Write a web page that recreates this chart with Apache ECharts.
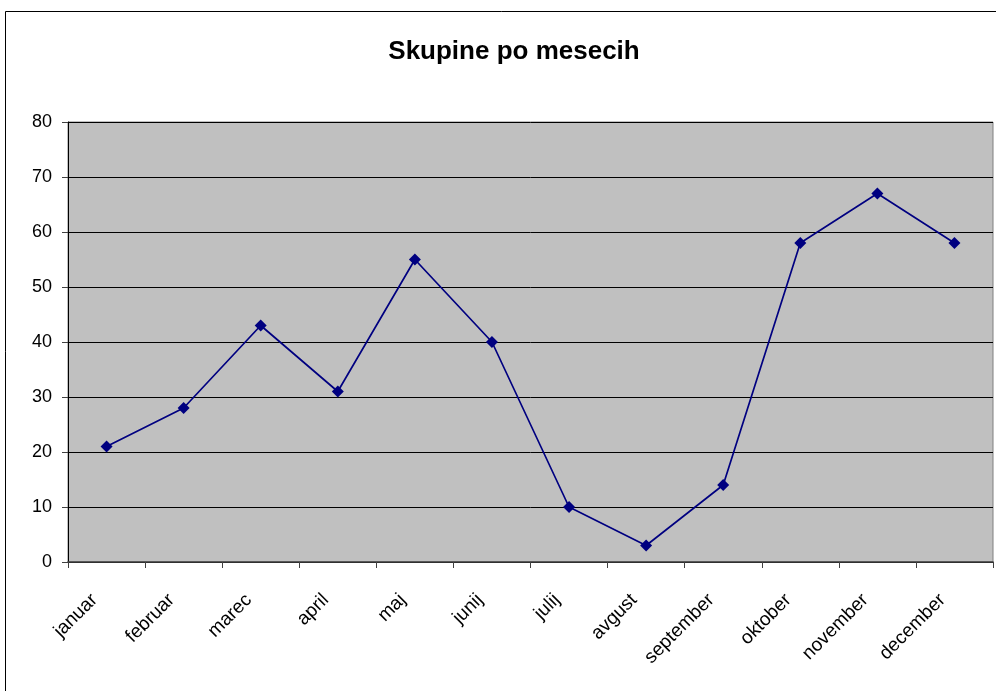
<!DOCTYPE html>
<html>
<head>
<meta charset="utf-8">
<script src="https://cdn.jsdelivr.net/npm/echarts@6/dist/echarts.min.js"></script>
<style>html,body{margin:0;padding:0;background:#fff;}#c{width:996px;height:691px;}</style>
</head>
<body>
<div id="c"></div>
<script>
const categories = ['januar','februar','marec','april','maj','junij','julij','avgust','september','oktober','november','december'];
const values = [21, 28, 43, 31, 55, 40, 10, 3, 14, 58, 67, 58];
const yTicks = [0, 10, 20, 30, 40, 50, 60, 70, 80];
const titleText = 'Skupine po mesecih';

const chart = echarts.init(document.getElementById('c'), null, {renderer: 'canvas'});
chart.setOption({
  animation: false,
  backgroundColor: '#fff',
  title: {
    text: titleText,
    left: 509, top: 34, textAlign: 'center',
    textStyle: {fontFamily: 'Liberation Sans', fontSize: 26, fontWeight: 'bold', color: '#000'}
  },
  graphic: [{
    type: 'rect', silent: true, z: -10,
    shape: {x: 5.5, y: 11.5, width: 1200, height: 900},
    style: {fill: 'none', stroke: '#000', lineWidth: 1}
  }],
  grid: {left: 68, top: 122, width: 925, height: 440, show: true,
    backgroundColor: '#C0C0C0', borderColor: '#808080', borderWidth: 1},
  xAxis: {
    type: 'category', data: categories, boundaryGap: true,
    axisLine: {lineStyle: {color: '#404040', width: 1.5}},
    axisTick: {show: true, length: 6, inside: false, lineStyle: {color: '#404040'}},
    axisLabel: {rotate: 45, interval: 0, margin: 23, padding: [0, 17, 0, 0],
      fontFamily: 'Liberation Sans', fontSize: 19, color: '#000'},
    splitLine: {show: false}
  },
  yAxis: {
    type: 'value', min: yTicks[0], max: yTicks[yTicks.length - 1], interval: 10,
    axisLine: {show: true, lineStyle: {color: '#000', width: 1}},
    axisTick: {show: true, length: 6, lineStyle: {color: '#404040'}},
    axisLabel: {margin: 16, fontFamily: 'Liberation Sans', fontSize: 18, color: '#000'},
    splitLine: {show: true, lineStyle: {color: '#000', width: 1}}
  },
  series: [{
    type: 'line', data: values,
    symbol: 'diamond', symbolSize: 12,
    lineStyle: {color: '#000080', width: 1.7},
    itemStyle: {color: '#000080'}
  }]
});
</script>
</body>
</html>
